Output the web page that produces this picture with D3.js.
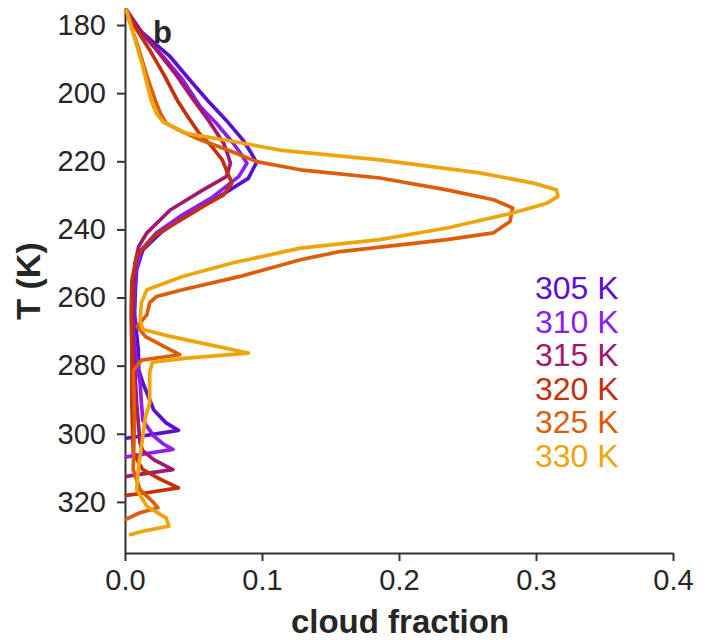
<!DOCTYPE html>
<html>
<head>
<meta charset="utf-8">
<script src="https://cdn.jsdelivr.net/npm/d3@7"></script>
<style>
  body { margin: 0; background: #fff; }
  text { font-family: "Liberation Sans", Arial, Helvetica, sans-serif; }
</style>
</head>
<body>
<div id="chart"></div>
<script>
// surface temperatures (one profile each)
const surfaceTemps = [305, 310, 315, 320, 325, 330];

// T (K) levels and cloud fraction
const temp305 = [175.6, 182, 189.3, 196, 202, 208, 213.7, 217.5, 220.3, 225, 230.3, 235.7, 241, 246, 251.8, 258, 265, 275.3, 281.2, 285, 290, 293, 296.8, 299, 300.3, 301.3];
const cloud305 = [0.001, 0.012, 0.033, 0.047, 0.060, 0.074, 0.086, 0.092, 0.096, 0.090, 0.069, 0.045, 0.026, 0.013, 0.0085, 0.0075, 0.007, 0.0097, 0.010, 0.013, 0.018, 0.021, 0.030, 0.039, 0.018, 0.001];

const temp310 = [175.6, 182, 189.3, 196, 204, 209, 214.7, 218, 220.6, 224.5, 227, 230.5, 235.7, 241, 246, 252, 260, 270, 278, 285, 291, 296, 300.7, 303, 304.6, 305.8, 306.8];
const cloud310 = [0.001, 0.011, 0.028, 0.042, 0.055, 0.067, 0.079, 0.085, 0.089, 0.083, 0.075, 0.064, 0.042, 0.023, 0.012, 0.008, 0.0065, 0.006, 0.008, 0.011, 0.012, 0.013, 0.021, 0.028, 0.035, 0.016, 0.001];

const temp315 = [175.6, 181, 187.3, 195, 202, 208, 214.7, 218, 220.6, 224.5, 228.4, 234.3, 241, 245, 250, 260, 270, 280, 291, 302.7, 305, 307.6, 309.5, 310.5, 311.5, 312.5];
const cloud315 = [0.001, 0.010, 0.023, 0.038, 0.050, 0.061, 0.072, 0.075, 0.077, 0.074, 0.057, 0.033, 0.016, 0.010, 0.0073, 0.006, 0.0055, 0.007, 0.0085, 0.011, 0.013, 0.021, 0.030, 0.035, 0.018, 0.001];

const temp320 = [175.6, 181, 187.3, 195, 202, 207, 211.7, 215.5, 219.6, 223.5, 226.4, 229.9, 233, 236.2, 242, 247.9, 255, 265, 275, 282, 291, 305.6, 310.5, 313.4, 315.9, 317.3, 318.1];
const cloud320 = [0.001, 0.008, 0.018, 0.029, 0.038, 0.046, 0.054, 0.063, 0.071, 0.075, 0.078, 0.072, 0.058, 0.045, 0.021, 0.0085, 0.005, 0.0045, 0.005, 0.005, 0.005, 0.006, 0.013, 0.026, 0.039, 0.016, 0.001];

const temp325 = [175.6, 181, 187, 195, 202, 206, 208.8, 211, 213.7, 217, 220.1, 222.5, 224.9, 228.4, 231.3, 233.7, 237.7, 241, 243, 246.5, 248.9, 253.8, 257.7, 259.7, 261.5, 265, 268.5, 271.5, 274.3, 276.8, 278.4, 281.5, 295, 310.5, 316.4, 320.3, 321.7, 323.2, 325];
const cloud325 = [0.001, 0.005, 0.010, 0.016, 0.022, 0.026, 0.030, 0.040, 0.055, 0.077, 0.096, 0.128, 0.186, 0.235, 0.269, 0.283, 0.281, 0.269, 0.235, 0.157, 0.128, 0.084, 0.042, 0.023, 0.018, 0.016, 0.009, 0.015, 0.028, 0.040, 0.012, 0.006, 0.007, 0.006, 0.011, 0.021, 0.024, 0.011, 0.001];

const temp330 = [175.6, 182.4, 192.2, 202, 206, 208.5, 211.8, 214.2, 216.7, 219.6, 223.4, 226.4, 228.4, 230.3, 232.3, 235.2, 239.6, 243, 245.5, 249.8, 253.8, 257.7, 261.5, 266.5, 269.4, 271.4, 273.3, 276.3, 277.8, 279, 282, 287, 291, 295, 300.7, 310.5, 316.4, 321.3, 324.7, 327.1, 328.6, 329.6];
const cloud330 = [0.001, 0.006, 0.013, 0.019, 0.023, 0.028, 0.045, 0.079, 0.113, 0.186, 0.259, 0.298, 0.315, 0.316, 0.308, 0.283, 0.235, 0.186, 0.128, 0.079, 0.042, 0.016, 0.012, 0.011, 0.013, 0.033, 0.055, 0.090, 0.045, 0.020, 0.018, 0.018, 0.018, 0.015, 0.013, 0.0097, 0.0085, 0.016, 0.030, 0.032, 0.013, 0.004];

const xTicks = [0, 0.1, 0.2, 0.3, 0.4];
const yTicks = [180, 200, 220, 240, 260, 280, 300, 320];

const profiles = [
  { sst: 305, temp: temp305, cloud: cloud305 },
  { sst: 310, temp: temp310, cloud: cloud310 },
  { sst: 315, temp: temp315, cloud: cloud315 },
  { sst: 320, temp: temp320, cloud: cloud320 },
  { sst: 325, temp: temp325, cloud: cloud325 },
  { sst: 330, temp: temp330, cloud: cloud330 }
];

const width = 713;
const height = 640;

const colorScale = d3.scaleOrdinal()
  .domain(surfaceTemps)
  .range(["#5c0fcc", "#8c1ef2", "#a11a70", "#c2300c", "#dc5d0a", "#eea50c"]);

const xScale = d3.scaleLinear()
  .domain([0, 0.4])
  .range([125, 673]);

const yScale = d3.scaleLinear()
  .domain([175, 335])
  .range([8, 553]);

const svg = d3.select("#chart")
  .append("svg")
  .attr("width", width)
  .attr("height", height);

// Axes
const xAxis = svg.append("g")
  .attr("transform", `translate(0, ${yScale.range()[1]})`)
  .call(d3.axisBottom(xScale)
    .tickValues(xTicks)
    .tickFormat(d3.format(".1f"))
    .tickSize(8)
    .tickSizeOuter(0)
    .tickPadding(8));

const yAxis = svg.append("g")
  .attr("transform", `translate(${xScale.range()[0]}, 0)`)
  .call(d3.axisLeft(yScale)
    .tickValues(yTicks)
    .tickSize(8)
    .tickSizeOuter(0)
    .tickPadding(11));

[xAxis, yAxis].forEach(ax => {
  ax.select(".domain").attr("stroke", "#333").attr("stroke-width", 2);
  ax.selectAll(".tick line").attr("stroke", "#333").attr("stroke-width", 2);
  ax.selectAll(".tick text")
    .attr("fill", "#262626")
    .style("font-size", "29px");
});

// Axis titles
svg.append("text")
  .text("cloud fraction")
  .attr("x", (xScale.range()[0] + xScale.range()[1]) / 2 + 1)
  .attr("y", 633)
  .attr("text-anchor", "middle")
  .attr("fill", "#262626")
  .style("font-size", "33px")
  .style("font-weight", 700);

svg.append("text")
  .text("T (K)")
  .attr("transform", `translate(40, 281) rotate(-90)`)
  .attr("text-anchor", "middle")
  .attr("fill", "#262626")
  .style("font-size", "34px")
  .style("font-weight", 700);

// Panel letter
svg.append("text")
  .text("b")
  .attr("x", 153)
  .attr("y", 43)
  .attr("fill", "#262626")
  .style("font-size", "31px")
  .style("font-weight", 700);

// Profiles
const lineGenerator = d3.line()
  .x(d => xScale(d.cf))
  .y(d => yScale(d.t));

svg.append("g")
  .selectAll("path")
  .data(profiles)
  .join("path")
  .attr("d", p => lineGenerator(p.temp.map((t, i) => ({ t: t, cf: p.cloud[i] }))))
  .attr("fill", "none")
  .attr("stroke", p => colorScale(p.sst))
  .attr("stroke-width", 3.7)
  .attr("stroke-linejoin", "round")
  .attr("stroke-linecap", "round");

// Legend labels
svg.append("g")
  .selectAll("text")
  .data(surfaceTemps)
  .join("text")
  .text(d => `${d} K`)
  .attr("x", 535)
  .attr("y", (d, i) => 299 + i * 33.6)
  .attr("fill", d => colorScale(d))
  .style("font-size", "32px");
</script>
</body>
</html>
